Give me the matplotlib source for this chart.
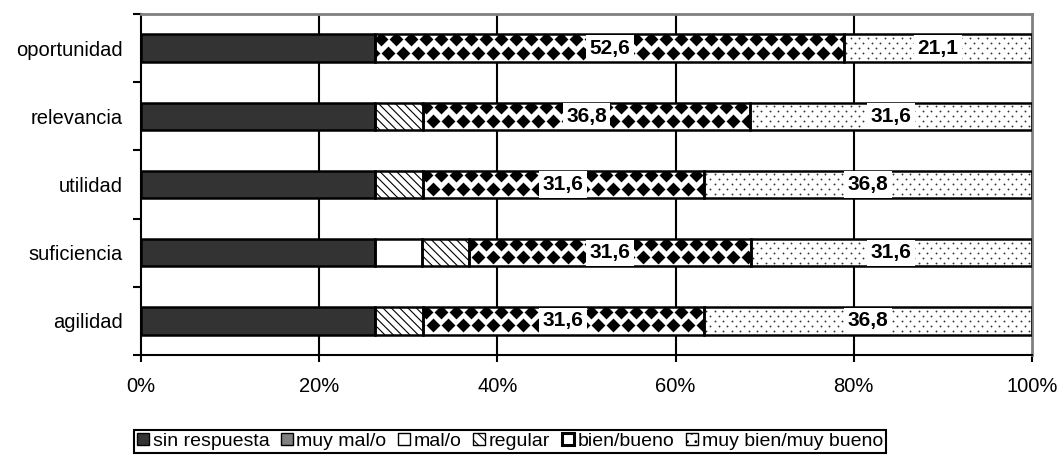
import numpy as np
import matplotlib
matplotlib.use("Agg")
import matplotlib.pyplot as plt
from matplotlib.patches import Patch

plt.rcParams["font.family"] = ["Liberation Sans", "DejaVu Sans"]
plt.rcParams["hatch.linewidth"] = 0.8

CATEGORIES = ["oportunidad", "relevancia", "utilidad", "suficiencia", "agilidad"]

SERIES_NAMES = ["sin respuesta", "muy mal/o", "mal/o", "regular",
                "bien/bueno", "muy bien/muy bueno"]

# percentages per category (same order as CATEGORIES)
SIN_RESPUESTA = [26.3, 26.3, 26.3, 26.3, 26.3]
MUY_MALO      = [0.0, 0.0, 0.0, 0.0, 0.0]
MALO          = [0.0, 0.0, 0.0, 5.3, 0.0]
REGULAR       = [0.0, 5.3, 5.3, 5.3, 5.3]
BUENO         = [52.6, 36.8, 31.6, 31.6, 31.6]
MUY_BUENO     = [21.1, 31.6, 36.8, 31.6, 36.8]

X_TICKS = [0, 20, 40, 60, 80, 100]
X_TICK_LABELS = ["0%", "20%", "40%", "60%", "80%", "100%"]

# fill style per series: (facecolor, hatch, overlay pattern)
STYLES = [
    ("#333333", None, None),
    ("#808080", None, None),
    ("white", None, None),
    ("white", "\\\\\\\\", None),
    ("white", None, "diamonds"),
    ("white", None, "dots"),
]
LABELLED = {"bien/bueno", "muy bien/muy bueno"}

BAR_H = 0.4


def fmt(v):
    return f"{v:.1f}".replace(".", ",")


def overlay_pattern(ax, rect, kind, yc, sx, sy):
    """Scatter a repeating pattern clipped to one bar segment (sizes in px)."""
    x0, x1 = rect.get_x(), rect.get_x() + rect.get_width()
    if kind == "diamonds":
        period, rows, size, col = 15.0, [(-9.0, 0.0), (4.5, 7.5)], 50, "black"
        marker = "D"
    else:
        period, rows, size, col = 8.5, [], 1.8, "#333333"
        marker = "o"
        for k, dy in enumerate(np.arange(-15, 16, 5.0)):
            rows.append((dy, 4.25 * (k % 2)))
    xs, ys = [], []
    for dy, off in rows:
        px = np.arange(off, 100 * sx + period, period)
        px = px / sx
        px = px[(px > x0 - 2) & (px < x1 + 2)]
        xs.extend(px)
        ys.extend([yc + dy / sy] * len(px))
    sc = ax.scatter(xs, ys, s=size, marker=marker, color=col,
                    linewidths=0, zorder=2.5)
    sc.set_clip_path(rect)


data = np.array([SIN_RESPUESTA, MUY_MALO, MALO, REGULAR, BUENO, MUY_BUENO])
shares = data / data.sum(axis=0) * 100
y = np.arange(len(CATEGORIES))

fig = plt.figure(figsize=(10.6, 4.59), dpi=100)
ax = fig.add_axes([0.133, 0.2266, 0.8406, 0.7429])
ax.set_xlim(0, 100)
ax.set_ylim(len(CATEGORIES) - 0.5, -0.5)

# px per data unit for the fill patterns
p0 = ax.transData.transform((0, 0))
p1 = ax.transData.transform((100, 1))
sx = abs(p1[0] - p0[0]) / 100
sy = abs(p1[1] - p0[1])

left = np.zeros(len(CATEGORIES))
for name, raw, vals, (fc, hatch, pattern) in zip(SERIES_NAMES, data, shares, STYLES):
    for i in range(len(CATEGORIES)):
        if vals[i] <= 0:
            continue
        rect = ax.barh(y[i], vals[i], left=left[i], height=BAR_H, color=fc,
                       hatch=hatch, edgecolor="black" if hatch else "none",
                       linewidth=0, zorder=2)[0]
        if pattern:
            overlay_pattern(ax, rect, pattern, y[i], sx, sy)
        ax.barh(y[i], vals[i], left=left[i], height=BAR_H, facecolor="none",
                edgecolor="black", linewidth=1.8, zorder=3)
        if name in LABELLED:
            ax.text(left[i] + vals[i] / 2, y[i], fmt(raw[i]), ha="center",
                    va="center", fontsize=15, fontweight="bold", zorder=4,
                    bbox=dict(facecolor="white", edgecolor="none", pad=2.5))
    left += vals

ax.vlines(X_TICKS[1:-1], 0, 1, transform=ax.get_xaxis_transform(),
          color="black", linewidth=1.5, zorder=1)

ax.set_xticks(X_TICKS)
ax.set_xticklabels(X_TICK_LABELS, fontsize=14.5)
ax.set_yticks(y)
ax.set_yticklabels(CATEGORIES, fontsize=14.5)
ax.set_yticks(np.arange(-0.5, len(CATEGORIES)), minor=True)
ax.tick_params(axis="x", direction="out", length=5, width=1.5, pad=11)
ax.tick_params(axis="y", which="major", length=0, pad=13)
ax.tick_params(axis="y", which="minor", direction="out", length=6, width=1.5)

for side in ("top", "right"):
    ax.spines[side].set_color("#808080")
    ax.spines[side].set_linewidth(2)
for side in ("left", "bottom"):
    ax.spines[side].set_color("black")
    ax.spines[side].set_linewidth(1.5)

handles = [
    Patch(facecolor="#333333", edgecolor="black", linewidth=1),
    Patch(facecolor="#808080", edgecolor="black", linewidth=1),
    Patch(facecolor="white", edgecolor="black", linewidth=1),
    Patch(facecolor="white", edgecolor="black", linewidth=1, hatch="\\\\\\"),
    Patch(facecolor="white", edgecolor="black", linewidth=2.2),
    Patch(facecolor="white", edgecolor="black", linewidth=1, hatch=".."),
]
leg = fig.legend(handles, SERIES_NAMES, loc="center", ncol=6,
                 bbox_to_anchor=(0.481, 0.038), fontsize=14,
                 handlelength=0.6, handleheight=0.6, handletextpad=0.2,
                 columnspacing=0.6, borderpad=0.15, borderaxespad=0,
                 fancybox=False, framealpha=1)
leg.get_frame().set_edgecolor("black")
leg.get_frame().set_linewidth(1.5)

fig.savefig("out.png", dpi=100)
